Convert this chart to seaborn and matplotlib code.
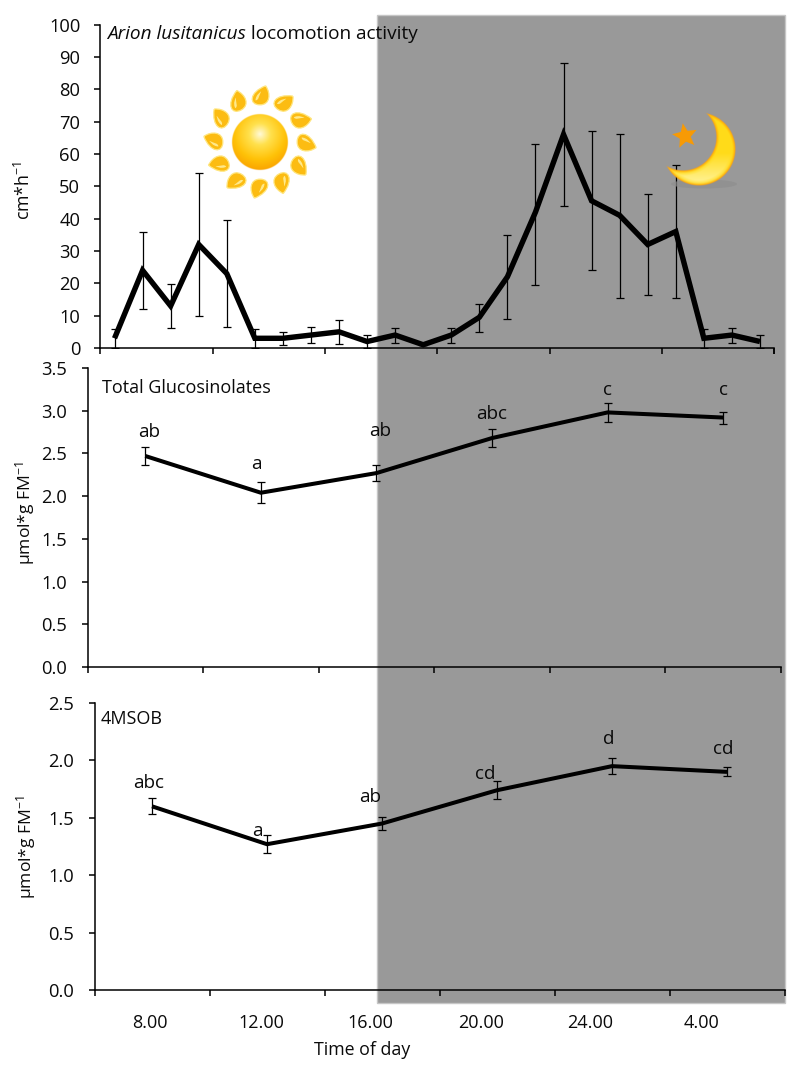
import numpy as np
import pandas as pd
import matplotlib
matplotlib.use('Agg')
import matplotlib.pyplot as plt
import seaborn as sns
from matplotlib.patches import Rectangle, Ellipse, PathPatch, Polygon
from matplotlib.path import Path
from matplotlib.transforms import Affine2D

# activity, hourly
activity = [3, 24, 13, 32, 23, 3, 3, 4, 5, 2, 4, 1, 4, 9.5, 22, 42, 66, 45.5, 41, 32, 36, 3, 4, 2]
activity_low = [0, 12, 6.2, 10, 6.5, 0, 1, 1.7, 1.2, 0, 1.7, 1, 1.7, 5, 9, 19.5, 44, 24, 15.5, 16.5, 15.5, 0, 1.7, 0]
activity_high = [6, 36, 19.8, 54, 39.5, 6, 5, 6.4, 8.8, 4, 6.3, 1, 6.3, 13.5, 35, 63, 88, 67, 66, 47.5, 56.5, 6, 6.3, 4]

# glucosinolates, six harvest times
total_gluc = [2.47, 2.04, 2.27, 2.68, 2.98, 2.92]
total_err = [0.10, 0.12, 0.09, 0.11, 0.11, 0.07]
total_letters = ['ab', 'a', 'ab', 'abc', 'c', 'c']
total_letter_y = [2.75, 2.38, 2.76, 2.96, 3.24, 3.24]

msob = [1.60, 1.27, 1.45, 1.74, 1.95, 1.90]
msob_err = [0.07, 0.08, 0.06, 0.08, 0.07, 0.04]
msob_letters = ['abc', 'a', 'ab', 'cd', 'd', 'cd']
msob_letter_y = [1.80, 1.385, 1.68, 1.88, 2.19, 2.10]
msob_letter_x = [-0.03, -0.08, -0.10, -0.10, -0.03, -0.03]

time_labels = ['8.00', '12.00', '16.00', '20.00', '24.00', '4.00']
time_label_x = [-0.02, 0.95, 1.90, 2.86, 3.81, 4.78]

sns.set_theme(style='ticks')
plt.rcParams['font.family'] = ['Open Sans', 'DejaVu Sans']
plt.rcParams['mathtext.fontset'] = 'custom'
plt.rcParams['mathtext.rm'] = 'Open Sans'
plt.rcParams['mathtext.default'] = 'regular'
plt.rcParams['axes.linewidth'] = 1.1
plt.rcParams['text.color'] = '#0a0a0a'

W, H = 800, 1073
fig = plt.figure(figsize=(W / 100, H / 100), dpi=100)


def panel(left, right, top, bottom):
    a = fig.add_axes([left / W, 1 - bottom / H, (right - left) / W, (bottom - top) / H])
    a.patch.set_alpha(0)
    a.spines[['top', 'right']].set_visible(False)
    a.spines[['left', 'bottom']].set_color('black')
    a.tick_params(axis='both', which='major', length=4, width=1.1, color='black', labelsize=13.2,
                  labelcolor='#0a0a0a', pad=10.5)
    return a


# overlay in pixel coordinates for the background and the pictures
bg = fig.add_axes([0, 0, 1, 1], zorder=-1)
bg.set_xlim(0, W)
bg.set_ylim(H, 0)
bg.axis('off')
bg.add_patch(Rectangle((377, 15), 408, 988, facecolor='#999999', edgecolor='#c6c6c6', lw=1))

ax1 = panel(100.5, 774, 24.5, 348)
ax2 = panel(87.5, 781, 368, 667)
ax3 = panel(94.5, 784.5, 703, 990)

# top panel
hours = np.arange(len(activity))
df = pd.DataFrame({'hour': hours, 'activity': activity})
sns.lineplot(data=df, x='hour', y='activity', ax=ax1, color='black', lw=3.9, errorbar=None,
             solid_joinstyle='miter', solid_capstyle='butt', zorder=3)
yerr = [np.array(activity) - np.array(activity_low), np.array(activity_high) - np.array(activity)]
ax1.errorbar(hours, activity, yerr=yerr, fmt='none', ecolor='black', elinewidth=0.9, capsize=2.8,
             capthick=0.9, zorder=2)
ax1.set_xlim(-0.5, 23.5)
ax1.set_ylim(0, 100)
ax1.set_yticks(np.arange(0, 101, 10))
ax1.set_xticks(list(np.arange(-0.5, 24, 4)) + [23.5])
ax1.set_xticklabels([])
ax1.set_xlabel('')
ax1.set_ylabel('')
t = ax1.text(107, 34, 'Arion lusitanicus', style='italic', fontsize=13.7, va='center', ha='left',
             transform=bg.transData)
ax1.annotate(' locomotion activity', xy=(1, 0.5), xycoords=t, va='center', ha='left', fontsize=13.7)
fig.text(24 / W, 1 - 190 / H, 'cm*h$^{-1}$', rotation=90, fontsize=12.8, va='center', ha='center')


def gluc_panel(a, vals, errs, letters, letter_y, letter_dx):
    x = np.arange(len(vals))
    d = pd.DataFrame({'time': x, 'value': vals})
    sns.lineplot(data=d, x='time', y='value', ax=a, color='black', lw=2.9, errorbar=None,
                 solid_joinstyle='miter', solid_capstyle='butt', zorder=3)
    a.errorbar(x, vals, yerr=errs, fmt='none', ecolor='black', elinewidth=0.9, capsize=2.8,
               capthick=0.9, zorder=2)
    for xi, dx, yi, s in zip(x, letter_dx, letter_y, letters):
        a.text(xi + dx, yi, s, ha='center', va='center', fontsize=13.6)
    a.set_xlim(-0.5, 5.5)
    a.set_xticks(np.arange(-0.5, 6, 1))
    a.set_xticklabels([])
    a.set_xlabel('')
    a.set_ylabel('')


gluc_panel(ax2, total_gluc, total_err, total_letters, total_letter_y, [0.03, -0.04, 0.03, 0, 0, 0])
ax2.set_ylim(0, 3.5)
ax2.set_yticks(np.arange(0, 3.6, 0.5))
ax2.text(102, 388, 'Total Glucosinolates', fontsize=13, va='center', ha='left', transform=bg.transData)
fig.text(25 / W, 1 - 513 / H, 'µmol*g FM$^{-1}$', rotation=90, fontsize=12.6, va='center', ha='center')

gluc_panel(ax3, msob, msob_err, msob_letters, msob_letter_y, msob_letter_x)
ax3.set_ylim(0, 2.5)
ax3.set_yticks(np.arange(0, 2.6, 0.5))
ax3.text(101, 719, '4MSOB', fontsize=13, va='center', ha='left', transform=bg.transData)
fig.text(26 / W, 1 - 847 / H, 'µmol*g FM$^{-1}$', rotation=90, fontsize=12.6, va='center', ha='center')
ax3.set_xticks(time_label_x, time_labels, minor=True)
ax3.tick_params(axis='x', which='minor', length=0, labelsize=13, pad=17, labelcolor='#0a0a0a')
fig.text(362 / W, 1 - 1050 / H, 'Time of day', fontsize=12.8, va='center', ha='center')

# pictures on a layer above the panels
pic = fig.add_axes([0, 0, 1, 1], zorder=5)
pic.axis('off')
pic.patch.set_alpha(0)


def rgba_grid(x0, x1, y0, y1, scale=4):
    xs = np.linspace(x0, x1, int((x1 - x0) * scale))
    ys = np.linspace(y0, y1, int((y1 - y0) * scale))
    return np.meshgrid(xs, ys)


def blend(t, stops):
    t = np.clip(t, 0, 1)
    pos = [s[0] for s in stops]
    return np.dstack([np.interp(t, pos, [s[1][c] for s in stops]) for c in range(3)])


# sun disc
sx, sy, sr = 260, 142, 28.5
gx, gy = rgba_grid(sx - 32, sx + 32, sy - 32, sy + 32)
rad = np.hypot(gx - sx, gy - (sy - 8)) / (sr + 8)
rgb = blend(rad, [(0, (1, 0.98, 0.85)), (0.3, (1, 0.88, 0.3)), (0.7, (1, 0.76, 0.03)), (1, (0.98, 0.64, 0.0))])
alpha = np.clip(sr - np.hypot(gx - sx, gy - sy), 0, 1)
pic.imshow(np.dstack([rgb, alpha]), extent=(sx - 32, sx + 32, sy + 32, sy - 32), zorder=2, aspect='auto')

# sun rays
ray = Path([(5, -10), (10, -3), (9, 7), (0, 7), (-10, 7), (-10, -4), (5, -10)],
           [Path.MOVETO, Path.CURVE4, Path.CURVE4, Path.CURVE4, Path.CURVE4, Path.CURVE4, Path.CURVE4])
glint = Path([(-4, 3), (-4, -2), (1, -5), (1, -5), (-1, -1), (-1, 3), (-4, 3)],
             [Path.MOVETO, Path.CURVE4, Path.CURVE4, Path.CURVE4, Path.CURVE4, Path.CURVE4, Path.CURVE4])
for k in range(12):
    ang = k * 30
    tr = Affine2D().scale(1.12).translate(0, -45).rotate_deg(ang).translate(sx, sy)
    pic.add_patch(PathPatch(ray.transformed(tr), facecolor='#fcbc12', edgecolor='#ffe680', lw=0.9, zorder=2))
    pic.add_patch(PathPatch(glint.transformed(tr), facecolor='#ffe98a', edgecolor='none', zorder=2))

# moon
pic.add_patch(Ellipse((704, 184), 66, 9, facecolor='#8e8e8e', edgecolor='none', alpha=0.7, zorder=1))
mx, my, mr = 699, 149, 37
ix, iy, ir = 683, 137, 33
gx, gy = rgba_grid(mx - 40, mx + 40, my - 40, my + 40)
d_out = mr - np.hypot(gx - mx, gy - my)
d_in = np.hypot(gx - ix, gy - iy) - ir
edge = np.minimum(d_out, d_in)
rgb = blend(edge / 3.5, [(0, (1, 0.6, 0.05)), (0.6, (1, 0.78, 0.05)), (1, (1, 0.86, 0.1))])
light = np.clip((gy - (my + 4)) / 30, 0, 1)[..., None] * np.clip((edge - 1) / 5, 0, 1)[..., None]
rgb = rgb * (1 - 0.75 * light) + np.array([1, 0.98, 0.75]) * 0.75 * light
alpha = np.clip(edge, 0, 1)
pic.imshow(np.dstack([rgb, alpha]), extent=(mx - 40, mx + 40, my + 40, my - 40), zorder=2, aspect='auto')

# star
cx, cy = 685, 136
ang = np.deg2rad(np.arange(0, 360, 36) - 100)
rr = np.where(np.arange(10) % 2 == 0, 13, 5.8)
pic.add_patch(Polygon(np.c_[cx + rr * np.cos(ang), cy + rr * np.sin(ang)], facecolor='#f79a05', edgecolor='none', zorder=2))
pic.set_xlim(0, W)
pic.set_ylim(H, 0)

fig.savefig('out.png', dpi=100)
